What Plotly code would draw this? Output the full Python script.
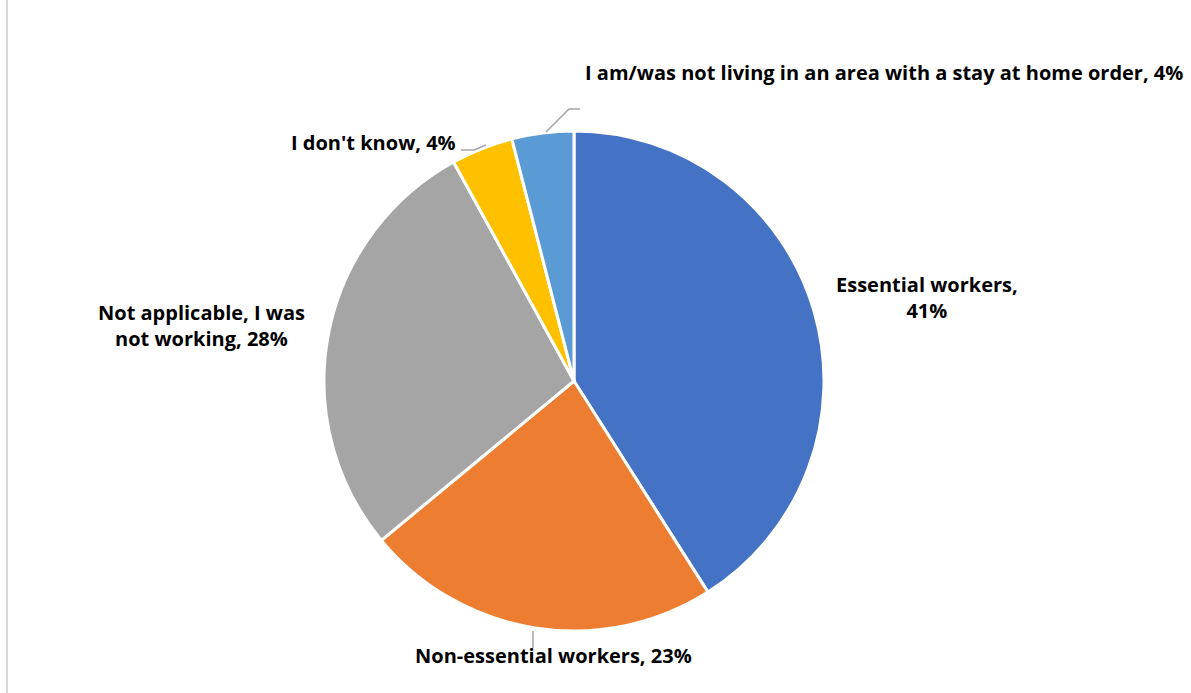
import plotly.graph_objects as go

# Share of respondents by work status under stay-at-home orders
categories = [
    "Essential workers",
    "Non-essential workers",
    "Not applicable, I was not working",
    "I don't know",
    "I am/was not living in an area with a stay at home order",
]
values = [41, 23, 28, 4, 4]
label_texts = [
    "Essential workers,<br>41%",
    "Non-essential workers, 23%",
    "Not applicable, I was<br>not working, 28%",
    "I don't know, 4%",
    "I am/was not living in an area with a stay at home order, 4%",
]
colors = ["#4472C4", "#ED7D31", "#A5A5A5", "#FFC000", "#5B9BD5"]

W, H = 1191, 693
cx, cy, r = 574, 381, 250  # pie centre and radius in pixels


def px(x):
    return x / W


def py(y):
    return 1 - y / H


fig = go.Figure(
    go.Pie(
        labels=categories,
        values=values,
        sort=False,
        direction="clockwise",
        rotation=0,
        marker=dict(colors=colors, line=dict(color="white", width=3)),
        textinfo="none",
        hoverinfo="label+percent",
        showlegend=False,
        domain=dict(x=[px(cx - r), px(cx + r)], y=[py(cy + r), py(cy - r)]),
    )
)

font = dict(family="Open Sans, sans-serif", size=20, color="#000000")

# label anchor positions (paper px) for each category
label_pos = [
    (927, 298),
    (553, 655),
    (201, 325),
    (373, 143),
    (884, 72),
]
for txt, (x, y) in zip(label_texts, label_pos):
    fig.add_annotation(
        x=px(x), y=py(y), xref="paper", yref="paper", text="<b>" + txt + "</b>",
        showarrow=False, font=font, align="center", xanchor="center", yanchor="middle",
    )

# leader lines
leaders = [
    [(533, 631), (533, 648)],
    [(461, 150), (474, 150), (486, 145)],
    [(546, 132), (569, 109), (580, 109)],
]
for pts in leaders:
    path = "M " + " L ".join(f"{px(x)},{py(y)}" for x, y in pts)
    fig.add_shape(type="path", path=path, xref="paper", yref="paper",
                  line=dict(color="#A6A6A6", width=1.5))

# left frame edge
fig.add_shape(type="line", x0=px(7), x1=px(7), y0=0, y1=1, xref="paper", yref="paper",
              line=dict(color="#D9D9D9", width=2))

fig.update_layout(
    width=W, height=H,
    margin=dict(l=0, r=0, t=0, b=0),
    paper_bgcolor="white", plot_bgcolor="white",
)

fig.write_html("out.html")
